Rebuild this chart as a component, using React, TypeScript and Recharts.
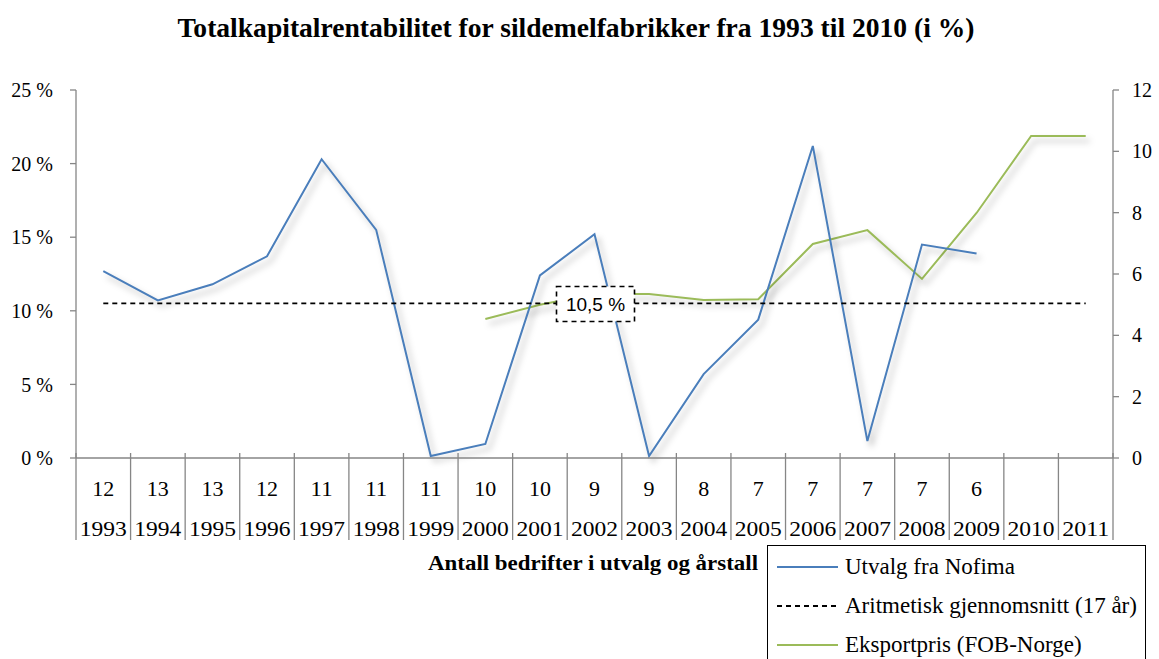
import React from 'react';
import { ComposedChart, Line, XAxis, YAxis, Legend, LabelList } from 'recharts';

const years = ['1993', '1994', '1995', '1996', '1997', '1998', '1999', '2000', '2001', '2002', '2003', '2004', '2005', '2006', '2007', '2008', '2009', '2010', '2011'];
const firmCounts = ['12', '13', '13', '12', '11', '11', '11', '10', '10', '9', '9', '8', '7', '7', '7', '7', '6', '', ''];
const nofimaValues: (number | null)[] = [12.7, 10.7, 11.8, 13.7, 20.3, 15.5, 0.13, 0.95, 12.4, 15.2, 0.13, 5.7, 9.4, 21.2, 1.15, 14.5, 13.9, null, null];
const averageValues: number[] = [10.5, 10.5, 10.5, 10.5, 10.5, 10.5, 10.5, 10.5, 10.5, 10.5, 10.5, 10.5, 10.5, 10.5, 10.5, 10.5, 10.5, 10.5, 10.5];
const exportPriceValues: (number | null)[] = [null, null, null, null, null, null, null, 4.53, 5.0, 5.35, 5.35, 5.15, 5.18, 6.98, 7.43, 5.84, 7.99, 10.5, 10.5];
const leftTicks = [0, 5, 10, 15, 20, 25];
const rightTicks = [0, 2, 4, 6, 8, 10, 12];
const seriesNames = ['Utvalg fra Nofima', 'Aritmetisk gjennomsnitt (17 år)', 'Eksportpris (FOB-Norge)'];
const AVG_LABEL = '10,5 %';
const AVG_LABEL_INDEX = 9;
const TITLE = 'Totalkapitalrentabilitet  for sildemelfabrikker  fra 1993 til 2010 (i %)';
const X_LABEL = 'Antall bedrifter i utvalg og årstall';

const data = years.map((year, i) => ({
  year,
  nofima: nofimaValues[i],
  avg: averageValues[i],
  eksport: exportPriceValues[i],
}));

const W = 1159;
const H = 659;
const M_LEFT = 16;
const Y_LEFT_W = 60;
const M_RIGHT = 6;
const Y_RIGHT_W = 40;
const PLOT_W = W - M_LEFT - Y_LEFT_W - M_RIGHT - Y_RIGHT_W;
const BAND = PLOT_W / years.length;

const AXIS = '#868686';
const BLUE = '#4A7EBB';
const GREEN = '#9BBB59';
const SERIF = '"Liberation Serif", "Times New Roman", serif';
const SANS = '"Liberation Sans", Arial, sans-serif';

const CategoryTick = (props: any) => {
  const { x, y, payload } = props;
  const i = payload.index;
  const half = BAND / 2;
  const firms = firmCounts[i];
  return (
    <g>
      {i === 0 && <line x1={x - half} x2={x - half} y1={y - 5} y2={y + 82} stroke={AXIS} strokeWidth={1.3} />}
      <line x1={x + half} x2={x + half} y1={y - 5} y2={y + 82} stroke={AXIS} strokeWidth={1.3} />
      {firms !== '' && (
        <text x={x} y={y + 38} textAnchor="middle" fill="#000" fontSize={20} fontFamily={SERIF}
          textLength={11 * firms.length} lengthAdjust="spacingAndGlyphs">
          {firms}
        </text>
      )}
      <text x={x} y={y + 78} textAnchor="middle" fill="#000" fontSize={21} fontFamily={SERIF}
        textLength={47} lengthAdjust="spacingAndGlyphs">
        {payload.value}
      </text>
    </g>
  );
};

const AvgLabel = (props: any) => {
  const { x, y, index } = props;
  if (index !== AVG_LABEL_INDEX) return null;
  return (
    <g>
      <rect x={x - 38} y={y - 17} width={78} height={35} fill="#fff" stroke="#000" strokeWidth={1.6} strokeDasharray="5 4" />
      <text x={x + 1} y={y + 8} textAnchor="middle" fill="#000" fontSize={19} fontFamily={SANS}>{AVG_LABEL}</text>
    </g>
  );
};

const LegendBox = () => (
  <div style={{ width: 379, height: 130, border: '1.5px solid #000', background: '#fff', position: 'relative', fontFamily: SERIF, fontSize: 23, color: '#000', boxSizing: 'border-box' }}>
    {seriesNames.map((name, i) => (
      <div key={name} style={{ position: 'absolute', left: 0, top: 21 + i * 39 - 14, height: 28, display: 'flex', alignItems: 'center' }}>
        <svg width={80} height={28} style={{ display: 'block' }}>
          <line x1={9} x2={70} y1={14} y2={14}
            stroke={i === 0 ? BLUE : i === 1 ? '#000' : GREEN}
            strokeWidth={i === 1 ? 1.8 : 2}
            strokeDasharray={i === 1 ? '5 4' : undefined} />
        </svg>
        <span style={{ whiteSpace: 'nowrap', marginLeft: -3 }}>{name}</span>
      </div>
    ))}
  </div>
);

export default function App() {
  return (
    <div style={{ position: 'absolute', left: 0, top: 0, width: W, height: H, overflow: 'hidden', background: '#fff' }}>
      <style>{`.shadowLine path { filter: drop-shadow(4px 5px 3px rgba(0,0,0,0.28)); }`}</style>
      <ComposedChart width={W} height={H} data={data}
        margin={{ top: 90, right: M_RIGHT, left: M_LEFT, bottom: 111 }}
        style={{ fontFamily: SERIF }}>
        <XAxis dataKey="year" xAxisId={0} scale="band" interval={0} height={90}
          tickLine={false} tickSize={0} tickMargin={0}
          axisLine={{ stroke: AXIS, strokeWidth: 1.3 }}
          tick={<CategoryTick />} />
        <YAxis yAxisId="left" orientation="left" width={Y_LEFT_W} domain={[0, 25]} ticks={leftTicks}
          tickFormatter={(v: number) => `${v} %`} tickSize={6} tickMargin={17}
          axisLine={{ stroke: AXIS, strokeWidth: 1.3 }} tickLine={{ stroke: AXIS, strokeWidth: 1.3 }}
          tick={{ fill: '#000', fontSize: 20, fontFamily: SERIF }} />
        <YAxis yAxisId="right" orientation="right" width={Y_RIGHT_W} domain={[0, 12]} ticks={rightTicks}
          tickSize={6} tickMargin={13}
          axisLine={{ stroke: AXIS, strokeWidth: 1.3 }} tickLine={{ stroke: AXIS, strokeWidth: 1.3 }}
          tick={{ fill: '#000', fontSize: 20, fontFamily: SERIF, textAnchor: 'start' }} />
        <Line yAxisId="right" dataKey="eksport" name={seriesNames[2]} stroke={GREEN} strokeWidth={2}
          dot={false} activeDot={false} isAnimationActive={false} className="shadowLine" />
        <Line yAxisId="left" dataKey="nofima" name={seriesNames[0]} stroke={BLUE} strokeWidth={2}
          dot={false} activeDot={false} isAnimationActive={false} className="shadowLine" />
        <Line yAxisId="left" dataKey="avg" name={seriesNames[1]} stroke="#000" strokeWidth={1.8}
          strokeDasharray="5 4" dot={false} activeDot={false} isAnimationActive={false}>
          <LabelList dataKey="avg" content={<AvgLabel />} />
        </Line>
        <Legend layout="horizontal" verticalAlign="middle" align="center" content={<LegendBox />}
          wrapperStyle={{ position: 'absolute', left: 767, top: 545, width: 379, height: 130, margin: 0, padding: 0 }} />
      </ComposedChart>
      <svg width={W} height={H} style={{ position: 'absolute', left: 0, top: 0, pointerEvents: 'none' }}>
        <text x={576} y={37} textAnchor="middle" fontFamily={SERIF} fontWeight="bold" fontSize={27}
          textLength={797} lengthAdjust="spacingAndGlyphs" fill="#000">{TITLE}</text>
        <text x={593} y={570} textAnchor="middle" fontFamily={SERIF} fontWeight="bold" fontSize={22}
          textLength={330} lengthAdjust="spacingAndGlyphs" fill="#000">{X_LABEL}</text>
      </svg>
    </div>
  );
}
